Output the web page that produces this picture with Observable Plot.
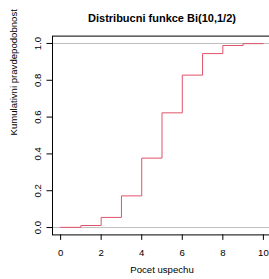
<!DOCTYPE html>
<html>
<head>
<meta charset="utf-8">
<script src="https://cdn.jsdelivr.net/npm/d3@7"></script>
<script src="https://cdn.jsdelivr.net/npm/@observablehq/plot@0.6"></script>
<style>
  html, body { margin: 0; padding: 0; background: #fff; }
  #chart svg { display: block; font-family: "Liberation Sans", Arial, sans-serif; }
</style>
</head>
<body>
<div id="chart"></div>
<script>
const titleText = "Distribucni funkce Bi(10,1/2)";
const xLabel = "Pocet uspechu";
const yLabel = "Kumulativni pravdepodobnost";
const successes = [0, 1, 2, 3, 4, 5, 6, 7, 8, 9, 10];
const cumProb = [0.001, 0.011, 0.055, 0.172, 0.377, 0.623, 0.828, 0.945, 0.989, 0.999, 1.000];
const xTicks = [0, 2, 4, 6, 8, 10];
const yTicks = [0, 0.2, 0.4, 0.6, 0.8, 1.0];
const refLines = [0, 1];

const data = successes.map((k, i) => ({k, p: cumProb[i]}));

const W = 269, H = 279;
const mL = 52, mR = -2, mT = 35.6, mB = 44.6;
const fs = 9.6;

const chart = Plot.plot({
  width: W,
  height: H,
  marginLeft: mL,
  marginRight: mR,
  marginTop: mT,
  marginBottom: mB,
  style: {fontFamily: '"Liberation Sans", Arial, sans-serif', fontSize: fs + "px", background: "#fff"},
  x: {domain: [-0.4, 10.4], range: [mL, W - mR]},
  y: {domain: [-0.04, 1.04], range: [H - mB, mT]},
  marks: [
    Plot.ruleY(refLines, {y: d => d, stroke: "#bebebe", strokeWidth: 1}),
    Plot.line(data, {x: "k", y: "p", curve: "step-after", stroke: "#DF536B", strokeWidth: 1}),
    Plot.frame({stroke: "#000", strokeWidth: 1}),
    Plot.axisX(xTicks, {tickSize: 5.5, tickPadding: 8.5, label: null, fontSize: fs}),
    Plot.axisY(yTicks, {tickSize: 5.5, tickRotate: -90, tickFormat: d3.format(".1f"), tickPadding: 6.5, label: null, fontSize: fs}),
    Plot.text([titleText], {text: d => d, frameAnchor: "top", dy: -22, fontWeight: "bold", fontSize: 11}),
    Plot.text([xLabel], {text: d => d, frameAnchor: "bottom", dy: 38.3, fontSize: fs}),
    Plot.text([yLabel], {text: d => d, frameAnchor: "left", rotate: -90, dx: -39, fontSize: fs})
  ]
});
document.getElementById("chart").appendChild(chart);
</script>
</body>
</html>
